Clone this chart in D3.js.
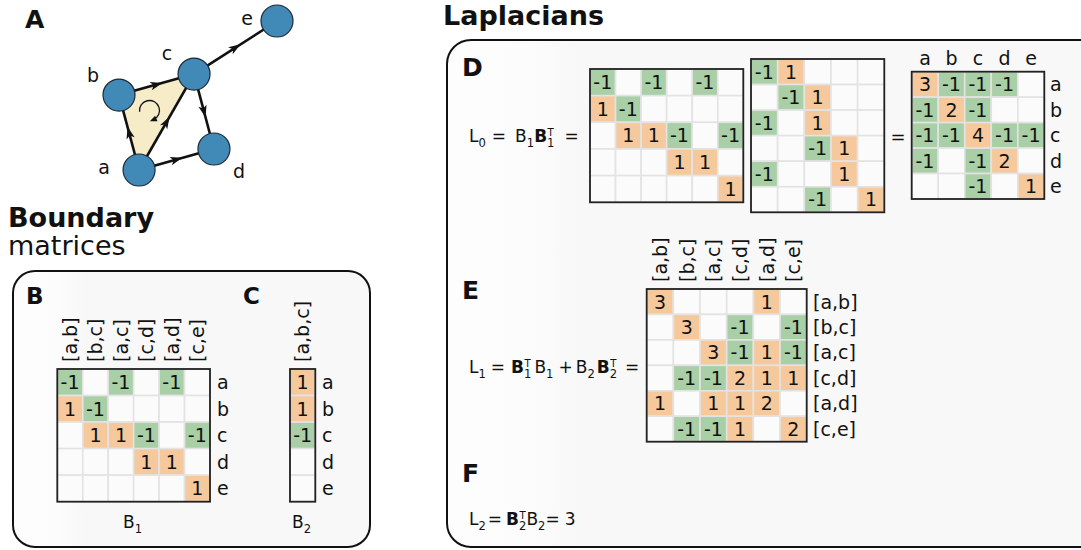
<!DOCTYPE html>
<html><head><meta charset="utf-8">
<script src="https://cdn.jsdelivr.net/npm/d3@7"></script>
<style>body{margin:0;background:#fff}svg{display:block}text{font-family:"DejaVu Sans",sans-serif;fill:#111}</style>
</head><body><svg id="c" width="1081" height="550"></svg>
<script>
// ---------- data ----------
const nodes = ["a", "b", "c", "d", "e"];
const edges = ["[a,b]", "[b,c]", "[a,c]", "[c,d]", "[a,d]", "[c,e]"];
const triangles = ["[a,b,c]"];
const edgeEnds = [["a","b"],["b","c"],["a","c"],["c","d"],["a","d"],["c","e"]];
const filledTriangle = ["a", "b", "c"];
// abstract layout (unit square) of the graph nodes
const nodeX = [0.127, 0.000, 0.475, 0.601, 1.000];
const nodeY = [0.000, 0.503, 0.644, 0.141, 1.000];

const B1 = [
  [-1, 0, -1, 0, -1, 0],
  [ 1,-1,  0, 0,  0, 0],
  [ 0, 1,  1,-1,  0,-1],
  [ 0, 0,  0, 1,  1, 0],
  [ 0, 0,  0, 0,  0, 1]
];
const B2 = [[1],[1],[-1],[0],[0]];
const B1T = [
  [-1, 1, 0, 0, 0],
  [ 0,-1, 1, 0, 0],
  [-1, 0, 1, 0, 0],
  [ 0, 0,-1, 1, 0],
  [-1, 0, 0, 1, 0],
  [ 0, 0,-1, 0, 1]
];
const L0 = [
  [ 3,-1,-1,-1, 0],
  [-1, 2,-1, 0, 0],
  [-1,-1, 4,-1,-1],
  [-1, 0,-1, 2, 0],
  [ 0, 0,-1, 0, 1]
];
const L1 = [
  [3, 0, 0, 0, 1, 0],
  [0, 3, 0,-1, 0,-1],
  [0, 0, 3,-1, 1,-1],
  [0,-1,-1, 2, 1, 1],
  [1, 0, 1, 1, 2, 0],
  [0,-1,-1, 1, 0, 2]
];
const L2 = 3;

// ---------- style ----------
const POS = "#f6c99d", NEG = "#a9cfa7", ZERO = "#fbfbfb";
const svg = d3.select("#c");

const defs = svg.append("defs");
const grad = defs.append("linearGradient").attr("id","pg").attr("x1","0").attr("x2","1").attr("y1","0").attr("y2","0");
grad.append("stop").attr("offset","0").attr("stop-color","#fdfdfd");
grad.append("stop").attr("offset","0.12").attr("stop-color","#fcfcfc");
grad.append("stop").attr("offset","0.2").attr("stop-color","#f8f8f8");
grad.append("stop").attr("offset","1").attr("stop-color","#f8f8f8");

// ---------- panels ----------
svg.append("rect").attr("x",13).attr("y",271).attr("width",357).attr("height",276).attr("rx",22)
  .attr("fill","url(#pg)").attr("stroke","#111").attr("stroke-width",2);
svg.append("rect").attr("x",447).attr("y",40).attr("width",660).attr("height",507).attr("rx",24)
  .attr("fill","url(#pg)").attr("stroke","#111").attr("stroke-width",2);

function label(x, y, t, size, opts = {}) {
  const el = svg.append("text").attr("x",x).attr("y",y).attr("font-size",size).text(t);
  if (opts.bold) el.attr("font-weight","bold");
  if (opts.anchor) el.attr("text-anchor",opts.anchor);
  return el;
}
label(8, 227, "Boundary", 27, {bold:true});
label(8, 255, "matrices", 27);
label(443, 25, "Laplacians", 27, {bold:true});
label(25, 28, "A", 25, {bold:true});
label(26, 304, "B", 23, {bold:true});
label(243, 304, "C", 23, {bold:true});
label(462, 76, "D", 25, {bold:true});
label(462, 299, "E", 25, {bold:true});
label(462, 482, "F", 25, {bold:true});

// ---------- graph ----------
const gx = d3.scaleLinear().domain([0,1]).range([119,277]);
const gy = d3.scaleLinear().domain([0,1]).range([170,21]);
const pos = {};
nodes.forEach((n,i) => pos[n] = [gx(nodeX[i]), gy(nodeY[i])]);
const gG = svg.append("g");
gG.append("path").attr("d", d3.line()(filledTriangle.map(n => pos[n])) + "Z").attr("fill","#f6ecc8");
edgeEnds.forEach(([s,t]) => {
  const [x1,y1] = pos[s], [x2,y2] = pos[t];
  gG.append("line").attr("x1",x1).attr("y1",y1).attr("x2",x2).attr("y2",y2).attr("stroke","#111").attr("stroke-width",2.6);
  const ang = Math.atan2(y2-y1, x2-x1) * 180/Math.PI;
  const mx = (x1+x2)/2, my = (y1+y2)/2;
  gG.append("path").attr("d","M6,0 L-6,-4.2 L-3,0 L-6,4.2 Z").attr("fill","#111")
    .attr("transform",`translate(${mx},${my}) rotate(${ang})`);
});
// circulation arrow
{
  const cx = 149.5, cy = 110.5, r = 10;
  const a0 = 173*Math.PI/180, a1 = 66*Math.PI/180;
  const p0 = [cx + r*Math.cos(a0), cy + r*Math.sin(a0)], p1 = [cx + r*Math.cos(a1), cy + r*Math.sin(a1)];
  gG.append("path").attr("d",`M${p0[0]},${p0[1]} A${r},${r} 0 1 1 ${p1[0]},${p1[1]}`)
    .attr("fill","none").attr("stroke","#111").attr("stroke-width",1.3);
  const tang = (66+90);
  gG.append("path").attr("d","M4,0 L-3,-3 L-3,3 Z").attr("fill","#111")
    .attr("transform",`translate(${p1[0]},${p1[1]}) rotate(${tang})`);
}
nodes.forEach(n => {
  gG.append("circle").attr("cx",pos[n][0]).attr("cy",pos[n][1]).attr("r",16)
    .attr("fill","#4189b6").attr("stroke","#1b2a35").attr("stroke-width",1.2);
});
const nodeLabelPos = {a:[104,174], b:[93,82], c:[167,60], d:[239,178], e:[247,25]};
nodes.forEach(n => label(nodeLabelPos[n][0], nodeLabelPos[n][1], n, 19, {anchor:"middle"}));

// ---------- matrices ----------
function drawMatrix(M, x0, x1, y0, y1) {
  const g = svg.append("g");
  const cols = d3.range(M[0].length), rows = d3.range(M.length);
  const xs = d3.scaleBand().domain(cols).range([x0,x1]);
  const ys = d3.scaleBand().domain(rows).range([y0,y1]);
  const cells = [];
  M.forEach((row,i) => row.forEach((v,j) => cells.push({i,j,v})));
  g.selectAll("rect.cell").data(cells).join("rect").attr("class","cell")
    .attr("x",d => xs(d.j)).attr("y",d => ys(d.i))
    .attr("width",xs.bandwidth()).attr("height",ys.bandwidth())
    .attr("fill",d => d.v > 0 ? POS : d.v < 0 ? NEG : ZERO)
    .attr("stroke","#e3e3e3").attr("stroke-width",1.6);
  g.selectAll("text.v").data(cells.filter(d => d.v !== 0)).join("text").attr("class","v")
    .attr("x",d => xs(d.j) + xs.bandwidth()/2).attr("y",d => ys(d.i) + ys.bandwidth()/2)
    .attr("dy","0.36em").attr("text-anchor","middle").attr("font-size",19)
    .text(d => String(d.v));
  g.append("rect").attr("x",x0).attr("y",y0).attr("width",x1-x0).attr("height",y1-y0)
    .attr("fill","none").attr("stroke","#222").attr("stroke-width",1.8);
  return {g, xs, ys};
}
function colLabelsRot(m, labels, yEnd) {
  m.g.selectAll("text.cl").data(labels).join("text").attr("class","cl")
    .attr("transform",(d,j) => `translate(${m.xs(j) + m.xs.bandwidth()/2},${yEnd}) rotate(-90)`)
    .attr("dy","0.36em").attr("text-anchor","start").attr("font-size",19).text(d => d);
}
function colLabels(m, labels, yBase) {
  m.g.selectAll("text.cl").data(labels).join("text").attr("class","cl")
    .attr("x",(d,j) => m.xs(j) + m.xs.bandwidth()/2).attr("y",yBase)
    .attr("text-anchor","middle").attr("font-size",19).text(d => d);
}
function rowLabels(m, labels, x) {
  m.g.selectAll("text.rl").data(labels).join("text").attr("class","rl")
    .attr("x",x).attr("y",(d,i) => m.ys(i) + m.ys.bandwidth()/2)
    .attr("dy","0.36em").attr("font-size",19).text(d => d);
}

// panel B
const mB1 = drawMatrix(B1, 57.3, 210, 369, 501.7);
colLabelsRot(mB1, edges, 362);
rowLabels(mB1, nodes, 217);
// panel C
const mB2 = drawMatrix(B2, 290, 315.3, 369, 501.7);
colLabelsRot(mB2, triangles, 362);
rowLabels(mB2, nodes, 322);

// panel D
drawMatrix(B1, 590, 743.3, 69, 202.3);
drawMatrix(B1T, 751, 884.3, 59, 212.3);
const mL0 = drawMatrix(L0, 911.7, 1044.3, 71.7, 199);
colLabels(mL0, nodes, 65);
rowLabels(mL0, nodes, 1050);
label(898, 143, "=", 18, {anchor:"middle"});

// panel E
const mL1 = drawMatrix(L1, 646.7, 806.7, 289, 441.7);
colLabelsRot(mL1, edges, 282);
rowLabels(mL1, edges, 813);

// ---------- math text ----------
function mathText(x, y, parts, fs) {
  let cx = x;
  parts.forEach(p => {
    if (p.sp !== undefined) { cx += p.sp; return; }
    const t = svg.append("text").attr("x",cx).attr("y",y).attr("font-size",fs).text(p.t);
    if (p.b) t.attr("font-weight","bold");
    const w = t.node().getComputedTextLength();
    let extra = 0;
    if (p.sub !== undefined) {
      const s = svg.append("text").attr("x",cx+w).attr("y",y+fs*0.3).attr("font-size",fs*0.68).text(p.sub);
      extra = Math.max(extra, s.node().getComputedTextLength());
    }
    if (p.sup !== undefined) {
      const s = svg.append("text").attr("x",cx+w+0.5).attr("y",y-fs*0.36).attr("font-size",fs*0.6).text(p.sup);
      extra = Math.max(extra, s.node().getComputedTextLength());
    }
    cx += w + extra;
  });
}
mathText(469, 142, [{t:"L",sub:"0"},{sp:6},{t:"="},{sp:9},{t:"B",sub:"1"},{t:"B",b:1,sub:"1",sup:"T"},{sp:10},{t:"="}], 17);
mathText(469, 373, [{t:"L",sub:"1"},{sp:5},{t:"="},{sp:6},{t:"B",b:1,sub:"1",sup:"T"},{sp:3},{t:"B",sub:"1"},{sp:5},{t:"+"},{sp:3},{t:"B",sub:"2"},{sp:2},{t:"B",b:1,sub:"2",sup:"T"},{sp:8},{t:"="}], 17);
mathText(469, 525, [{t:"L",sub:"2"},{sp:2},{t:"="},{sp:4},{t:"B",b:1,sub:"2",sup:"T"},{t:"B",sub:"2"},{t:"="},{sp:5},{t:String(L2)}], 17);
mathText(123, 528, [{t:"B",sub:"1"}], 17);
mathText(292, 528, [{t:"B",sub:"2"}], 17);
</script></body></html>
